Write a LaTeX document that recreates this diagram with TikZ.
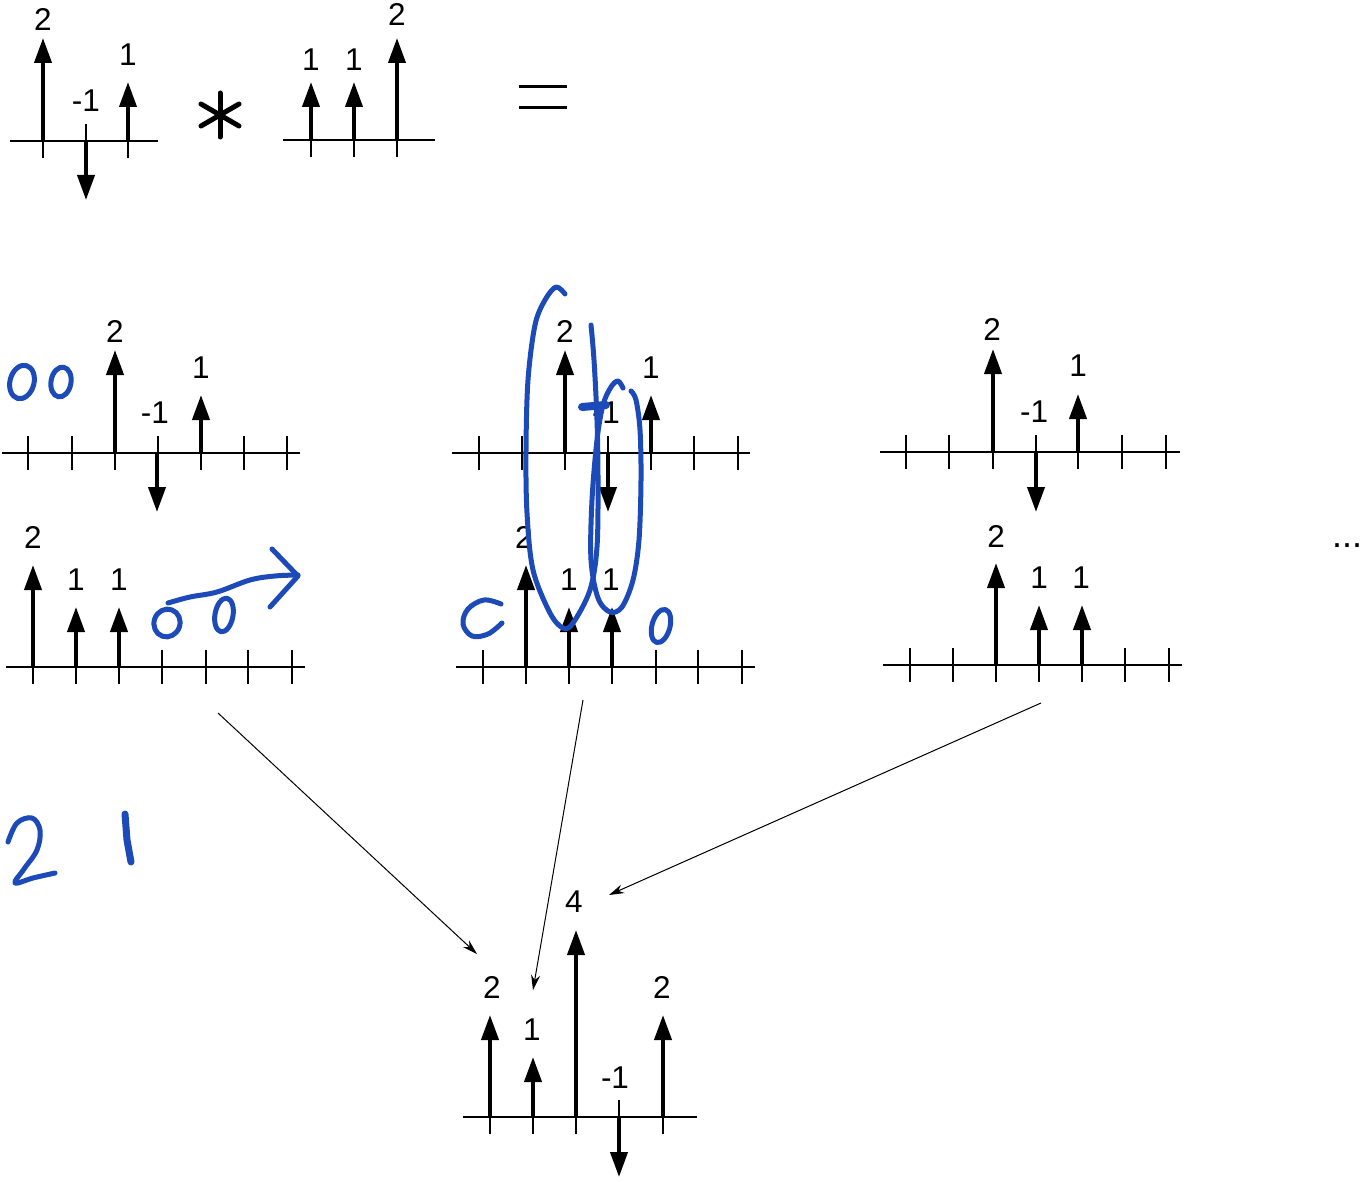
\documentclass[tikz,border=0pt]{standalone}
\usepackage{fontspec}
\setmainfont{Liberation Sans}
\usetikzlibrary{arrows.meta}
\definecolor{penblue}{RGB}{28,74,184}
\tikzset{
  stemline/.style={line width=4pt,-{Triangle[length=25pt,width=17pt]}},
  axisline/.style={line width=2.8pt},
  tickline/.style={line width=1.4pt},
  lbl/.style={font=\fontsize{31.5}{31.5}\selectfont,inner sep=0pt},
  pen/.style={draw=penblue,line width=5pt,line cap=round,line join=round},
  conn/.style={line width=1pt,-{Stealth[length=15pt,width=9pt]}}
}
\newcommand\axisrow[4]{%
  \draw[axisline] (#2,#1) -- (#3,#1);
  \foreach \tx in {#4} {\draw[tickline] (\tx,#1-17) -- (\tx,#1+17);}
}
\newcommand\stm[3]{\draw[stemline] (#1,#2) -- ++(0,-#3);}
\begin{document}
\begin{tikzpicture}[x=1pt,y=-1pt]
\useasboundingbox[fill=white] (0,0) rectangle (1367,1182);

% ---------- top row ----------
\axisrow{141}{10}{158}{43,86,128}
\stm{43}{141}{103}\stm{86}{141}{-59}\stm{128}{141}{59}
\node[lbl] (tl2) at (43,20) {2};
\node[lbl] (tlm) at (86,101) {-1};
\node[lbl] (tl1) at (128,55) {1};

\draw[line width=5pt,line cap=round] (220,93) -- (220,137);
\draw[line width=5pt,line cap=round] (201,104) -- (239,126);
\draw[line width=5pt,line cap=round] (201,126) -- (239,104);

\axisrow{140}{283}{435}{311,354,397}
\stm{311}{140}{58}\stm{354}{140}{58}\stm{397}{140}{102}
\node[lbl] (tra) at (311,60) {1};
\node[lbl] (trb) at (354,60) {1};
\node[lbl] (trc) at (397,15) {2};

\draw[line width=3pt] (519,87) -- (567,87);
\draw[line width=3pt] (519,108) -- (567,108);

% ---------- left column ----------
\axisrow{453}{2}{300}{28,72,115,158,201,244,287}
\stm{115}{453}{103}\stm{157}{453}{-59}\stm{201}{453}{58}
\node[lbl] (a12) at (115,332) {2};
\node[lbl] (a1m) at (155,413) {-1};
\node[lbl] (a11) at (201,368) {1};

\axisrow{667}{6}{305}{33,76,119,162,206,248,292}
\stm{33}{667}{102}\stm{76}{667}{60}\stm{119}{667}{60}
\node[lbl] (a22) at (33,537) {2};
\node[lbl] (a2a) at (76,580) {1};
\node[lbl] (a2b) at (119,580) {1};

% ---------- middle column ----------
\axisrow{453}{452}{750}{479,522,565,608,651,694,738}
\stm{565}{453}{103}\stm{608}{453}{-59}\stm{651}{453}{58}
\node[lbl] (b12) at (565,332) {2};
\node[lbl] (b1m) at (606,413) {-1};
\node[lbl] (b11) at (651,368) {1};

\axisrow{667}{456}{755}{483,526,569,612,656,698,742}
\stm{526}{667}{102}\stm{569}{667}{60}\stm{612}{667}{60}
\node[lbl] (b22) at (524,537) {2};
\node[lbl] (b2a) at (569,580) {1};
\node[lbl] (b2b) at (611,580) {1};

% ---------- right column ----------
\axisrow{452}{880}{1180}{906,949,993,1036,1078,1122,1166}
\stm{993}{452}{103}\stm{1036}{452}{-60}\stm{1078}{452}{58}
\node[lbl] (c12) at (992,330) {2};
\node[lbl] (c1m) at (1034,412) {-1};
\node[lbl] (c11) at (1078,366) {1};

\axisrow{665}{883}{1182}{910,953,996,1039,1082,1125,1169}
\stm{996}{665}{102}\stm{1039}{665}{60}\stm{1082}{665}{60}
\node[lbl] (c22) at (996,536) {2};
\node[lbl] (c2a) at (1039,578) {1};
\node[lbl] (c2b) at (1081,578) {1};

\node[lbl,font=\fontsize{36}{36}\selectfont] (dots) at (1347,546) {...};

% ---------- result ----------
\axisrow{1117}{463}{697}{490,533,576,619,663}
\stm{490}{1117}{102}\stm{533}{1117}{60}\stm{576}{1117}{187}\stm{619}{1117}{-60}\stm{663}{1117}{102}
\node[lbl] (r2a) at (492,987) {2};
\node[lbl] (r1)  at (532,1030) {1};
\node[lbl] (r4)  at (574,902) {4};
\node[lbl] (rm)  at (615,1078) {-1};
\node[lbl] (r2b) at (662,987) {2};

% ---------- connectors ----------
\coordinate (sA) at (218,713);
\coordinate (eA) at (477,954);
\coordinate (sB) at (583,700);
\coordinate (eB) at (533,990);
\coordinate (sC) at (1041,703);
\coordinate (eC) at (609,895);
\draw[conn] (sA) -- (eA);
\draw[conn] (sB) -- (eB);
\draw[conn] (sC) -- (eC);

% ---------- handwriting ----------
\draw[pen] (22,382) ellipse[x radius=12, y radius=17, rotate=-15];
\draw[pen] (61,382) ellipse[x radius=10, y radius=15, rotate=-10];
\draw[pen] (167,623) ellipse[x radius=13, y radius=14, rotate=-20];
\draw[pen] (224,615) ellipse[x radius=9, y radius=17, rotate=-10];
\draw[pen] plot[smooth,tension=0.6] coordinates {(168,603) (190,597) (217,592) (250,580) (275,576) (298,575)};
\draw[pen] (272,549) -- (298,576) -- (270,607);

\draw[pen] plot[smooth,tension=0.6] coordinates {(501,604) (484,600) (468,609) (463,624) (472,636) (488,634) (502,623)};
\draw[pen] (661,626) ellipse[x radius=9, y radius=17, rotate=-15];

\draw[pen] plot[smooth,tension=0.55] coordinates {(565,294) (556,287) (545,300) (535,325) (528,380) (526,450) (527,513) (533,570) (550,613) (563,628) (573,623) (590,590) (597,547) (598,480) (597,420) (594,360) (591,325)};
\draw[pen,line width=8pt] (582,407) -- (606,405);
\draw[pen] plot[smooth,tension=0.55] coordinates {(623,388) (618,381) (611,387) (603,405) (597,440) (592,500) (591,560) (598,598) (610,612) (622,607) (633,580) (639,540) (641,480) (640,430) (636,400) (631,391)};

\draw[pen] plot[smooth,tension=0.6] coordinates {(8,842) (17,823) (32,818) (40,830) (37,850) (24,869) (15,883) (33,878) (55,873)};
\draw[pen,line width=7pt] (125,814) -- (127,840) -- (131,862);
\end{tikzpicture}
\end{document}
